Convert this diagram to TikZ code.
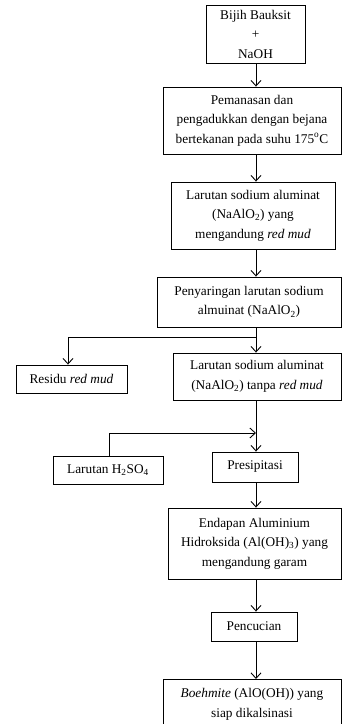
\documentclass[tikz,border=0pt]{standalone}
\usepackage{fontspec}
\setmainfont{Liberation Serif}
\usetikzlibrary{arrows.meta}
\begin{document}
\begin{tikzpicture}[x=1pt,y=-1pt,
  box/.style={draw, line width=0.9pt, align=center, inner sep=0pt,
    font=\fontsize{13.3}{19.5}\selectfont},
  conn/.style={line width=0.9pt},
  arr/.style={conn, -{Straight Barb[length=5.5pt,width=10pt,line width=0.9pt]}}]
\useasboundingbox (0,0) rectangle (342,724);
\coordinate (spine) at (256,0);
\node[box, minimum width=99pt, minimum height=58pt] (b1) at (255.5,34) {Bijih Bauksit\\+\\NaOH};
\node[box, minimum width=178pt, minimum height=67pt] (b2) at (252,120.5) {Pemanasan dan\\pengadukkan dengan bejana\\bertekanan pada suhu 175\textsuperscript{o}C};
\node[box, minimum width=164pt, minimum height=67pt] (b3) at (253,215.5) {Larutan sodium aluminat\\(NaAlO\textsubscript{2}) yang\\mengandung \textit{red mud}};
\node[box, minimum width=184pt, minimum height=50pt] (b4) at (249,302) {Penyaringan larutan sodium\\almuinat (NaAlO\textsubscript{2})};
\node[box, minimum width=168pt, minimum height=47pt] (b5) at (257,376.5) {Larutan sodium aluminat\\(NaAlO\textsubscript{2}) tanpa \textit{red mud}};
\node[box, minimum width=111pt, minimum height=28pt] (res) at (71.5,379) {Residu \textit{red mud}};
\node[box, minimum width=110pt, minimum height=28pt] (h2) at (108,470) {Larutan H\textsubscript{2}SO\textsubscript{4}};
\node[box, minimum width=86pt, minimum height=30pt] (pres) at (255,467) {Presipitasi};
\node[box, minimum width=173pt, minimum height=71pt] (end) at (254.5,543.5) {Endapan Aluminium\\Hidroksida (Al(OH)\textsubscript{3}) yang\\mengandung garam};
\node[box, minimum width=86pt, minimum height=29pt] (pen) at (254,626.5) {Pencucian};
\node[box, minimum width=178pt, minimum height=62pt, anchor=north] (boe) at (252,679) {\textit{Boehmite} (AlO(OH)) yang\\siap dikalsinasi\\[-4pt]};
\coordinate (split) at (256,337);
\coordinate (join) at (256,433);
\draw[arr] (b1.south -| spine) -- (b2.north -| spine);
\draw[arr] (b2.south -| spine) -- (b3.north -| spine);
\draw[arr] (b3.south -| spine) -- (b4.north -| spine);
\draw[conn] (b4.south -| spine) -- (split);
\draw[arr] (split) -- (b5.north -| spine);
\draw[arr] (split) -| (res.north -| 68,0);
\draw[conn] (b5.south -| spine) -- (join);
\draw[arr] (join) -- (pres.north -| spine);
\draw[arr] (h2.north -| 109,0) |- (join);
\draw[arr] (pres.south -| spine) -- (end.north -| spine);
\draw[arr] (end.south -| spine) -- (pen.north -| spine);
\draw[arr] (pen.south -| spine) -- (boe.north -| spine);
\end{tikzpicture}
\end{document}
